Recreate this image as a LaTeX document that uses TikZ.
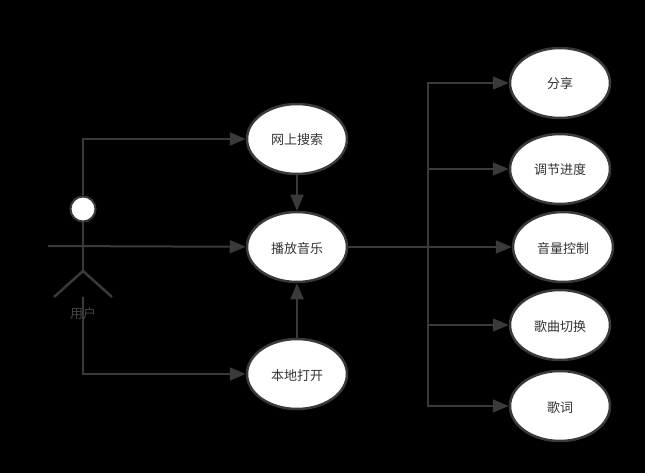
\documentclass[tikz,border=0pt]{standalone}
\usepackage{fontspec}
\newfontfamily\cjk{Noto Sans CJK SC}
\usetikzlibrary{arrows.meta,shapes.geometric}
\definecolor{linegray}{HTML}{3A3A3A}
\definecolor{textgray}{HTML}{333333}
\definecolor{usergray}{HTML}{444444}
\tikzset{
  usecase/.style={ellipse, line width=2.5pt, draw=linegray, fill=white, text=textgray, minimum width=100pt, minimum height=70pt, inner sep=0pt, text height=13pt, text depth=1pt, font=\cjk\fontsize{13pt}{15pt}\selectfont},
  conn/.style={line width=2pt, draw=linegray, -{Triangle[length=16pt,width=13pt]}},
  limb/.style={line width=2.5pt, draw=linegray}
}
\begin{document}
\begin{tikzpicture}[x=1pt, y=-1pt]
  \useasboundingbox[fill=black] (0,0) rectangle (645,473);
  \node[usecase] at (297,139) (search) {网上搜索};
  \node[usecase] at (297,247) (play) {播放音乐};
  \node[usecase] at (297,374) (local) {本地打开};
  \node[usecase] at (560,83) (share) {分享};
  \node[usecase] at (560,169) (progress) {调节进度};
  \node[usecase] at (563,247) (volume) {音量控制};
  \node[usecase] at (560,325) (switch) {歌曲切换};
  \node[usecase] at (560,406) (lyric) {歌词};
  % user figure
  \node[circle, draw=linegray, line width=2pt, fill=white, minimum size=25pt, inner sep=0pt] at (83,209) (head) {};
  \coordinate (hip) at (83,271);
  \coordinate (armleft) at (48,246);
  \coordinate (legleft) at (54,297);
  \coordinate (legright) at (112,297);
  \coordinate (crotch) at (83,297);
  \coordinate (hub) at (428,247);
  \node[text=usergray, font=\cjk\fontsize{13pt}{15pt}\selectfont, inner sep=0pt] at (83,314) (user) {用户};
  \draw[limb] (head) -- (hip);
  \draw[limb] (legleft) -- (hip) -- (legright);
  % connectors
  \draw[conn] (head) |- (search);
  \draw[conn] (armleft) -- (play);
  \draw[conn] (crotch) |- (local);
  \draw[conn] (search) -- (play);
  \draw[conn] (local) -- (play);
  \draw[conn] (play) -- (volume);
  \draw[conn] (hub) |- (share);
  \draw[conn] (hub) |- (progress);
  \draw[conn] (hub) |- (switch);
  \draw[conn] (hub) |- (lyric);
\end{tikzpicture}
\end{document}
